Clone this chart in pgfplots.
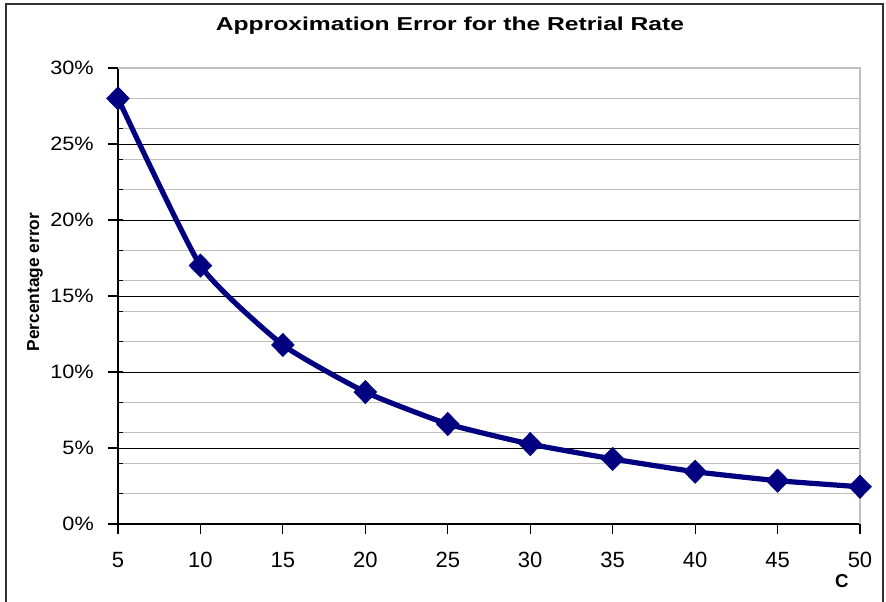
\documentclass[border=0pt]{standalone}
\usepackage{fontspec}
\setmainfont{Liberation Sans}
\usepackage{pgfplots}
\pgfplotsset{compat=1.18}
\definecolor{navy}{RGB}{0,0,128}
\definecolor{gridgray}{RGB}{192,192,192}
\begin{document}
\begin{tikzpicture}[x=0.75pt,y=0.75pt]
\begin{axis}[
  scale only axis, width=556.5pt, height=342pt,
  xmin=5, xmax=50, ymin=0, ymax=30,
  xtick={5,10,...,50},
  ytick={0,5,...,30},
  yticklabels={0\%,5\%,10\%,15\%,20\%,25\%,30\%},
  minor ytick={2,4,...,28},
  ymajorgrids, yminorgrids,
  major grid style={black, line width=0.75pt},
  minor grid style={gridgray, line width=0.75pt},
  axis x line*=bottom, axis y line*=left,
  axis line style={black, line width=0.9pt},
  tick align=outside,
  major tick length=7.5pt,
  minor tick length=3.75pt,
  tick style={black, line width=0.9pt},
  minor y tick style={xshift=3.75pt},
  /pgf/number format/assume math mode=true,
  xticklabel style={font=\fontsize{16.5pt}{18pt}\selectfont, yshift=-10pt},
  yticklabel style={font=\fontsize{14.5pt}{16pt}\selectfont, xscale=1.12, xshift=-6pt},
  xlabel={C},
  xlabel style={font=\bfseries\fontsize{14pt}{16pt}\selectfont, at={(axis description cs:0.9757,0)}, anchor=center, yshift=-42.75pt},
  clip=false,
]
\coordinate (O) at (rel axis cs:0,0);
\draw[gridgray, line width=0.9pt] (rel axis cs:0,1) -- (rel axis cs:1,1) -- (rel axis cs:1,0);
\addplot[navy, line width=3.9pt, smooth, tension=0.3, mark=diamond*, mark size=8.7pt, mark options={xscale=1.3, line width=0.5pt, fill=navy}]
coordinates {
(5,28.0) (10,17.0) (15,11.78) (20,8.68) (25,6.58) (30,5.26) (35,4.28) (40,3.44) (45,2.85) (50,2.45)
};
\end{axis}
\draw[line width=1.5pt, black!80] ([shift={(-112,-97)}]O) -- ([shift={(-112,520)}]O) -- ([shift={(765,520)}]O) -- ([shift={(765,-97)}]O);
\node[font=\bfseries\fontsize{14pt}{16pt}\selectfont, xscale=1.32] at ([shift={(332,498)}]O) {Approximation Error for the Retrial Rate};
\node[font=\bfseries\fontsize{13pt}{15pt}\selectfont, rotate=90] at ([shift={(-83,242)}]O) {Percentage error};
\pgfresetboundingbox
\path[use as bounding box] ([shift={(-118,-77)}]O) rectangle ([shift={(768,524)}]O);
\end{tikzpicture}
\end{document}
